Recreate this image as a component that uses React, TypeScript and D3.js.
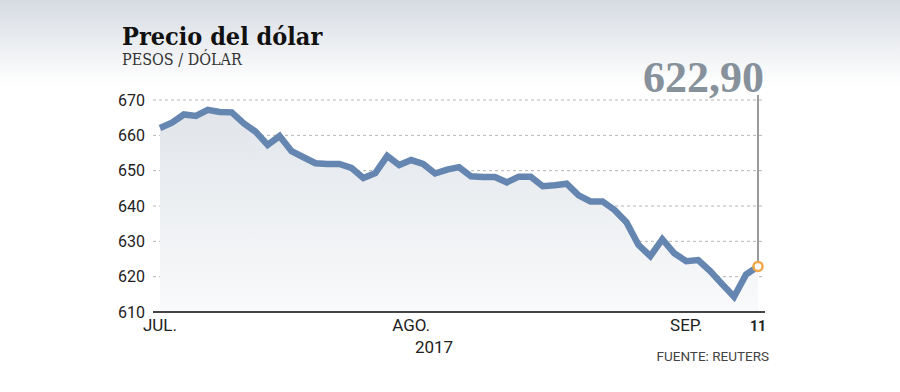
import { useEffect, useRef } from 'react';
import * as d3 from 'd3';

// ── Data ───────────────────────────────────────────────────────────────
const JUL_DAYS = [3, 4, 5, 6, 7, 10, 11, 12, 13, 14, 17, 18, 19, 20, 21, 24, 25, 26, 27, 28, 31];
const AUG_DAYS = [1, 2, 3, 4, 7, 8, 9, 10, 11, 14, 15, 16, 17, 18, 21, 22, 23, 24, 25, 28, 29, 30, 31];
const SEP_DAYS = [1, 4, 5, 6, 7, 8, 11];

const DATES = [
  ...JUL_DAYS.map(d => `2017-07-${String(d).padStart(2, '0')}`),
  ...AUG_DAYS.map(d => `2017-08-${String(d).padStart(2, '0')}`),
  ...SEP_DAYS.map(d => `2017-09-${String(d).padStart(2, '0')}`),
];

const PRICES = [
  662.1, 663.6, 665.9, 665.5, 667.2, 666.6, 666.5, 663.4, 661.0, 657.3,
  659.8, 655.5, 653.8, 652.1, 651.9, 651.9, 650.8, 647.9, 649.3, 654.2,
  651.6, 653.0, 651.9, 649.2, 650.3, 651.0, 648.4, 648.2, 648.2, 646.7,
  648.3, 648.3, 645.6, 645.9, 646.3, 643.0, 641.3, 641.3, 638.9, 635.4,
  629.0, 625.8, 630.6, 626.6, 624.4, 624.7, 621.6, 617.9, 614.3, 620.6,
  622.9,
];

const Y_TICKS = [610, 620, 630, 640, 650, 660, 670];
const MONTH_TICKS = [
  { date: '2017-07-03', label: 'JUL.' },
  { date: '2017-08-01', label: 'AGO.' },
  { date: '2017-09-01', label: 'SEP.' },
];
const LAST_LABEL = '622,90';

const W = 900;
const H = 392;
const SERIF = '"DejaVu Serif Condensed", "DejaVu Serif", serif';
const SANS = '"Liberation Sans Narrow", "Roboto", sans-serif';

export default function App() {
  const svgRef = useRef<SVGSVGElement>(null);

  useEffect(() => {
    if (!svgRef.current) return;
    const svg = d3.select(svgRef.current);
    svg.selectAll('*').remove();

    const x = d3.scalePoint<string>().domain(DATES).range([160, 758]);
    const y = d3.scaleLinear().domain([610, 670]).range([312, 100]);

    const defs = svg.append('defs');
    const head = defs.append('linearGradient').attr('id', 'head-grad')
      .attr('x1', 0).attr('x2', 0).attr('y1', 0).attr('y2', 1);
    head.append('stop').attr('offset', '0%').attr('stop-color', '#d6dbe2');
    head.append('stop').attr('offset', '100%').attr('stop-color', '#ffffff');

    const areaGrad = defs.append('linearGradient').attr('id', 'area-grad')
      .attr('gradientUnits', 'userSpaceOnUse')
      .attr('x1', 0).attr('x2', 0).attr('y1', 110).attr('y2', 312);
    areaGrad.append('stop').attr('offset', '0%').attr('stop-color', '#e1e5ea');
    areaGrad.append('stop').attr('offset', '100%').attr('stop-color', '#f9fafb');

    svg.append('rect').attr('width', W).attr('height', H).attr('fill', '#fff');
    svg.append('rect').attr('width', W).attr('height', 85).attr('fill', 'url(#head-grad)');

    // ── Title ─────────────────────────────────────────────────────────
    svg.append('text')
      .attr('x', 122).attr('y', 45)
      .attr('font-family', SERIF).attr('font-weight', 700).attr('font-size', 25)
      .attr('fill', '#111')
      .text('Precio del dólar');
    svg.append('text')
      .attr('x', 122).attr('y', 65)
      .attr('font-family', SERIF).attr('font-size', 16)
      .attr('fill', '#333')
      .text('PESOS / DÓLAR');

    // ── Grid + y labels ───────────────────────────────────────────────
    const grid = svg.append('g');
    Y_TICKS.filter(t => t !== 610).forEach(t => {
      grid.append('line')
        .attr('x1', 153).attr('x2', 763)
        .attr('y1', y(t)).attr('y2', y(t))
        .attr('stroke', '#b5b5b5').attr('stroke-width', 1)
        .attr('stroke-dasharray', '3,3');
    });
    svg.append('g')
      .selectAll('text')
      .data(Y_TICKS)
      .join('text')
      .attr('x', 145)
      .attr('y', d => y(d))
      .attr('dy', '0.36em')
      .attr('text-anchor', 'end')
      .attr('font-family', SANS).attr('font-size', 16)
      .attr('fill', '#222')
      .text(d => d);

    // ── Area + line ───────────────────────────────────────────────────
    const pts = DATES.map((d, i) => ({ d, v: PRICES[i] }));
    const area = d3.area<{ d: string; v: number }>()
      .x(p => x(p.d)!).y0(y(610)).y1(p => y(p.v));
    const line = d3.line<{ d: string; v: number }>()
      .x(p => x(p.d)!).y(p => y(p.v));

    svg.append('path').attr('d', area(pts)!).attr('fill', 'url(#area-grad)');
    svg.append('path').attr('d', line(pts)!)
      .attr('fill', 'none').attr('stroke', '#6586b0')
      .attr('stroke-width', 6.5).attr('stroke-linejoin', 'miter');

    // baseline
    svg.append('line')
      .attr('x1', 153).attr('x2', 765)
      .attr('y1', y(610)).attr('y2', y(610))
      .attr('stroke', '#444').attr('stroke-width', 2);

    // ── Last value marker ─────────────────────────────────────────────
    const last = pts[pts.length - 1];
    const lx = x(last.d)!;
    const ly = y(last.v);
    svg.append('line')
      .attr('x1', lx).attr('x2', lx).attr('y1', 95).attr('y2', ly)
      .attr('stroke', '#777').attr('stroke-width', 1.5);
    svg.append('circle')
      .attr('cx', lx).attr('cy', ly).attr('r', 4.5)
      .attr('fill', '#fff').attr('stroke', '#f0a94a').attr('stroke-width', 2.5);
    svg.append('text')
      .attr('x', 764).attr('y', 92)
      .attr('text-anchor', 'end')
      .attr('font-family', '"Liberation Serif", serif').attr('font-weight', 700)
      .attr('font-size', 44)
      .attr('fill', '#86919b')
      .text(LAST_LABEL);

    // ── X labels ──────────────────────────────────────────────────────
    svg.append('g')
      .selectAll('text')
      .data(MONTH_TICKS)
      .join('text')
      .attr('x', d => x(d.date)!)
      .attr('y', 331)
      .attr('text-anchor', 'middle')
      .attr('font-family', SANS).attr('font-size', 17)
      .attr('fill', '#222')
      .text(d => d.label);
    svg.append('text')
      .attr('x', lx).attr('y', 331)
      .attr('text-anchor', 'middle')
      .attr('font-family', SANS).attr('font-weight', 700).attr('font-size', 14)
      .attr('fill', '#222')
      .text(String(+last.d.slice(8)));
    svg.append('text')
      .attr('x', 434).attr('y', 353)
      .attr('text-anchor', 'middle')
      .attr('font-family', SANS).attr('font-size', 17)
      .attr('fill', '#222')
      .text('2017');
    svg.append('text')
      .attr('x', 769).attr('y', 361)
      .attr('text-anchor', 'end')
      .attr('font-family', SANS).attr('font-size', 13.5)
      .attr('fill', '#444')
      .text('FUENTE: REUTERS');
  }, []);

  return (
    <svg
      ref={svgRef}
      width={W}
      height={H}
      style={{ position: 'absolute', left: 0, top: 0, display: 'block' }}
    />
  );
}
